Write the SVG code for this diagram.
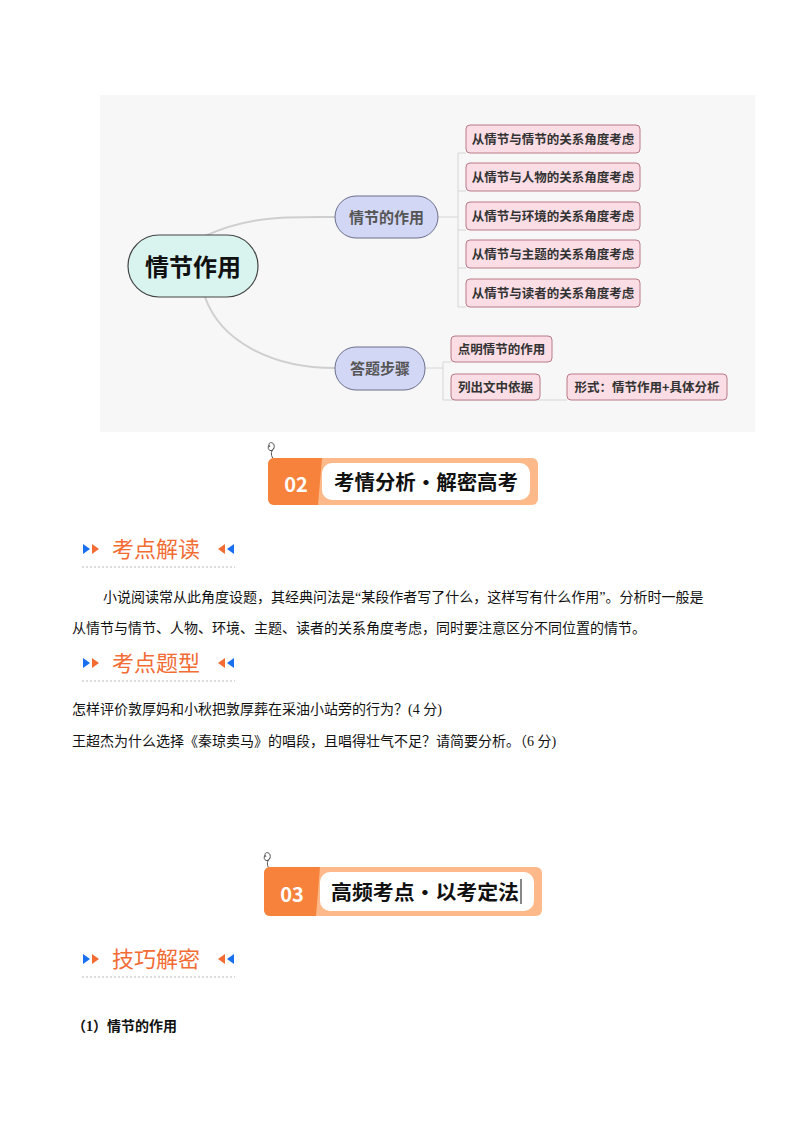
<svg xmlns="http://www.w3.org/2000/svg" width="800" height="1132" viewBox="0 0 800 1132">
<style>
.cj{font-family:"Noto Sans CJK SC","Liberation Sans",sans-serif}
.se{font-family:"Liberation Serif","Noto Sans CJK SC",serif;font-size:14px;fill:#111}
.leaf{fill:#fadde5;stroke:#b97a88;stroke-width:1}
.lt{font-family:"Noto Sans CJK SC",sans-serif;font-size:12.5px;font-weight:bold;fill:#333}
.mid{fill:#d3d7f6;stroke:#6b6f8a;stroke-width:1}
.con{fill:none;stroke:#cfcfcf;stroke-width:2}
.br{fill:none;stroke:#d6d6d6;stroke-width:1}
.h{font-family:"Noto Sans CJK SC",sans-serif;font-size:22px;fill:#f26c34}
.dash{stroke:#bbb;stroke-width:1;stroke-dasharray:2 2}
</style>
<rect width="800" height="1132" fill="#fff"/>
<rect x="100" y="95" width="655" height="337" fill="#f7f7f7"/>
<g id="connectors">
<path class="con" d="M205,236 C250,215 290,217 335,217"/>
<path class="con" d="M205,297 C220,340 270,368 335,368"/>
<path class="br" d="M438,217 H458 M458,153 V307 M458,153 H466 M458,191 H466 M458,230 H466 M458,268 H466 M458,307 H466"/>
<path class="br" d="M425,368 H443 M443,362 V400 H567 M443,362 H451"/>
</g>
<g id="root"><rect x="128" y="235" width="130" height="62" rx="31" fill="#d9f4ef" stroke="#444" stroke-width="1.2"/><text x="193" y="276" text-anchor="middle" class="cj" font-size="24" font-weight="bold" fill="#111">情节作用</text></g>
<g id="n1"><rect class="mid" x="335" y="196" width="103" height="42" rx="21"/><text x="386.5" y="223" text-anchor="middle" class="cj" font-size="15" font-weight="bold" fill="#555">情节的作用</text></g>
<g id="n2"><rect class="mid" x="335" y="347" width="90" height="43" rx="21"/><text x="380" y="374" text-anchor="middle" class="cj" font-size="15" font-weight="bold" fill="#555">答题步骤</text></g>
<g id="l1"><rect class="leaf" x="466" y="125" width="174" height="28" rx="4"/><text x="553" y="144" text-anchor="middle" class="lt">从情节与情节的关系角度考虑</text></g>
<g id="l2"><rect class="leaf" x="466" y="163" width="174" height="28" rx="4"/><text x="553" y="182" text-anchor="middle" class="lt">从情节与人物的关系角度考虑</text></g>
<g id="l3"><rect class="leaf" x="466" y="202" width="174" height="28" rx="4"/><text x="553" y="221" text-anchor="middle" class="lt">从情节与环境的关系角度考虑</text></g>
<g id="l4"><rect class="leaf" x="466" y="240" width="174" height="28" rx="4"/><text x="553" y="259" text-anchor="middle" class="lt">从情节与主题的关系角度考虑</text></g>
<g id="l5"><rect class="leaf" x="466" y="279" width="174" height="28" rx="4"/><text x="553" y="298" text-anchor="middle" class="lt">从情节与读者的关系角度考虑</text></g>
<g id="s1"><rect class="leaf" x="451" y="336" width="101" height="26" rx="4"/><text x="501.5" y="354" text-anchor="middle" class="lt">点明情节的作用</text></g>
<g id="s2"><rect class="leaf" x="451" y="374" width="89" height="26" rx="4"/><text x="495.5" y="392" text-anchor="middle" class="lt">列出文中依据</text></g>
<g id="s3"><rect class="leaf" x="567" y="374" width="160" height="26" rx="4"/><text x="647" y="392" text-anchor="middle" class="lt">形式：情节作用+具体分析</text></g>

<g id="banner02">
<path d="M270,447 c-4,-6 6,-6 4,1 c-2,5 -8,2 -5,-3 M274,448 c-4,4 -3,8 0,12" fill="none" stroke="#555" stroke-width="1"/>
<rect x="268" y="458" width="270" height="47" rx="6" fill="#fdb98a"/>
<path d="M274,458 H322 L318,505 H274 a6,6 0 0 1 -6,-6 V464 a6,6 0 0 1 6,-6z" fill="#f7823b"/>
<rect x="322" y="463" width="208" height="37" rx="10" fill="#fff"/>
<text x="296" y="492" text-anchor="middle" class="cj" font-size="20" font-weight="bold" fill="#fff">02</text>
<text x="334" y="490" class="cj" font-size="20" font-weight="bold" fill="#111" textLength="184" lengthAdjust="spacingAndGlyphs">考情分析•解密高考</text>
</g>
<g id="h1">
<path d="M83,544 l7,5 -7,5z" fill="#1a6ef0"/><path d="M92,544 l7,5 -7,5z" fill="#f26c34"/>
<text x="112" y="557" class="h">考点解读</text>
<path d="M225,544 l-7,5 7,5z" fill="#f26c34"/><path d="M234,544 l-7,5 7,5z" fill="#1a6ef0"/>
<line class="dash" x1="82" y1="567" x2="235" y2="567"/>
</g>
<text x="103" y="602" class="se">小说阅读常从此角度设题，其经典问法是“某段作者写了什么，这样写有什么作用”。分析时一般是</text>
<text x="72" y="633" class="se">从情节与情节、人物、环境、主题、读者的关系角度考虑，同时要注意区分不同位置的情节。</text>
<g id="h2">
<path d="M83,658 l7,5 -7,5z" fill="#1a6ef0"/><path d="M92,658 l7,5 -7,5z" fill="#f26c34"/>
<text x="112" y="671" class="h">考点题型</text>
<path d="M225,658 l-7,5 7,5z" fill="#f26c34"/><path d="M234,658 l-7,5 7,5z" fill="#1a6ef0"/>
<line class="dash" x1="82" y1="681" x2="235" y2="681"/>
</g>
<text x="72" y="714" class="se">怎样评价敦厚妈和小秋把敦厚葬在采油小站旁的行为？(4 分)</text>
<text x="72" y="746" class="se">王超杰为什么选择《秦琼卖马》的唱段，且唱得壮气不足？请简要分析。（6 分)</text>

<g id="banner03">
<path d="M266,857 c-4,-6 6,-6 4,1 c-2,5 -8,2 -5,-3 M270,858 c-4,4 -3,8 0,12" fill="none" stroke="#555" stroke-width="1"/>
<rect x="264" y="867" width="278" height="49" rx="6" fill="#fdb98a"/>
<path d="M270,867 H320 L316,916 H270 a6,6 0 0 1 -6,-6 V873 a6,6 0 0 1 6,-6z" fill="#f7823b"/>
<rect x="320" y="872" width="214" height="39" rx="10" fill="#fff"/>
<text x="292" y="902" text-anchor="middle" class="cj" font-size="20" font-weight="bold" fill="#fff">03</text>
<text x="331" y="900" class="cj" font-size="20" font-weight="bold" fill="#111" textLength="188" lengthAdjust="spacingAndGlyphs">高频考点•以考定法</text>
<line x1="521" y1="879" x2="521" y2="904" stroke="#111" stroke-width="1"/>
</g>
<g id="h3">
<path d="M83,954 l7,5 -7,5z" fill="#1a6ef0"/><path d="M92,954 l7,5 -7,5z" fill="#f26c34"/>
<text x="112" y="967" class="h">技巧解密</text>
<path d="M225,954 l-7,5 7,5z" fill="#f26c34"/><path d="M234,954 l-7,5 7,5z" fill="#1a6ef0"/>
<line class="dash" x1="82" y1="977" x2="235" y2="977"/>
</g>
<text x="72" y="1031" class="se" font-weight="bold">（1）情节的作用</text>
</svg>
